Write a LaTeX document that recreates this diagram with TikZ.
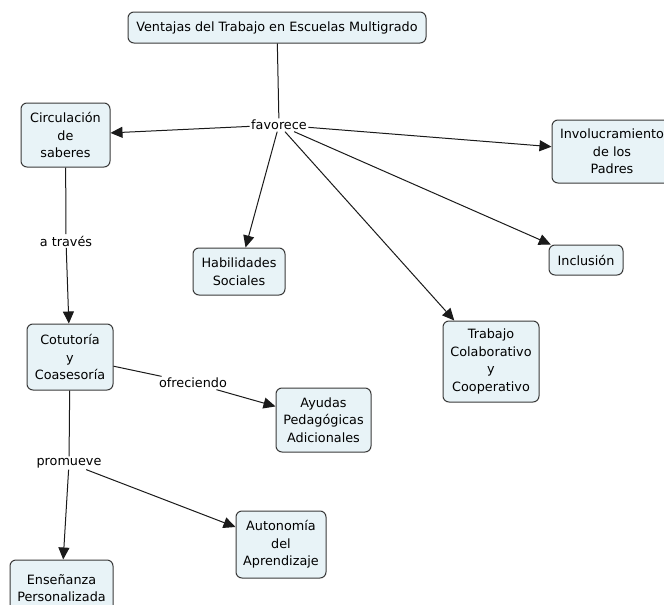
\documentclass[tikz,border=0pt]{standalone}
\usepackage{fontspec}
\setmainfont{DejaVu Sans}
\usetikzlibrary{arrows.meta}
\definecolor{boxfill}{HTML}{E8F3F7}
\definecolor{boxline}{HTML}{3A3A3A}
\definecolor{conn}{HTML}{1A1A1A}
\begin{document}
\begin{tikzpicture}[x=1pt,y=-1pt,
  concept/.style={draw=boxline,fill=boxfill,rounded corners=6pt,line width=1pt,
    align=center,inner sep=0pt,font=\fontsize{12.8}{17.5}\selectfont},
  linklabel/.style={fill=white,inner sep=1.5pt,font=\fontsize{12.8}{17.5}\selectfont},
  conline/.style={draw=conn,line width=1pt},
  arr/.style={conline,-{Triangle[length=12pt,width=11pt]}}]
\useasboundingbox[fill=white] (0,0) rectangle (664,605);
% concepts
\node[concept,minimum width=298pt,minimum height=31pt] (top) at (277,27.5) {Ventajas del Trabajo en Escuelas Multigrado};
\node[concept,minimum width=89pt,minimum height=64pt] (circ) at (65.5,135) {Circulación\\de\\saberes};
\node[concept,minimum width=120pt,minimum height=63pt] (inv) at (612,151.5) {Involucramiento\\de los\\Padres};
\node[concept,minimum width=92pt,minimum height=47pt] (hab) at (239,271.5) {Habilidades\\Sociales};
\node[concept,minimum width=74pt,minimum height=30pt] (incl) at (586,260) {Inclusión};
\node[concept,minimum width=96pt,minimum height=81pt] (trab) at (491,361.5) {Trabajo\\Colaborativo\\y\\Cooperativo};
\node[concept,minimum width=86pt,minimum height=66pt] (cot) at (70,357) {Cotutoría\\y\\Coasesoría};
\node[concept,minimum width=95pt,minimum height=64pt] (ayu) at (323.5,420) {Ayudas\\Pedagógicas\\Adicionales};
\node[concept,minimum width=103pt,minimum height=56pt] (ens) at (61.5,588) {Enseñanza\\Personalizada};
\node[concept,minimum width=90pt,minimum height=67pt] (aut) at (281,544.5) {Autonomía\\del\\Aprendizaje};
% link labels
\node[linklabel] (fav) at (279,125) {favorece};
\node[linklabel] (atr) at (66,241) {a través};
\node[linklabel] (ofr) at (193,383) {ofreciendo};
\node[linklabel] (prom) at (69,463) {promueve};
% connectors
\draw[conline] (top) -- (fav);
\draw[arr] (fav) -- (circ);
\draw[arr] (fav) -- (inv);
\draw[arr] (fav) -- (hab);
\draw[arr] (fav) -- (incl);
\draw[arr] (fav) -- (trab);
\draw[conline] (circ) -- (atr);
\draw[arr] (atr) -- (cot);
\draw[conline] (cot) -- (ofr);
\draw[arr] (ofr) -- (ayu);
\draw[conline] (cot) -- (prom);
\draw[arr] (prom) -- (ens);
\draw[arr] (prom) -- (aut);
\end{tikzpicture}
\end{document}
